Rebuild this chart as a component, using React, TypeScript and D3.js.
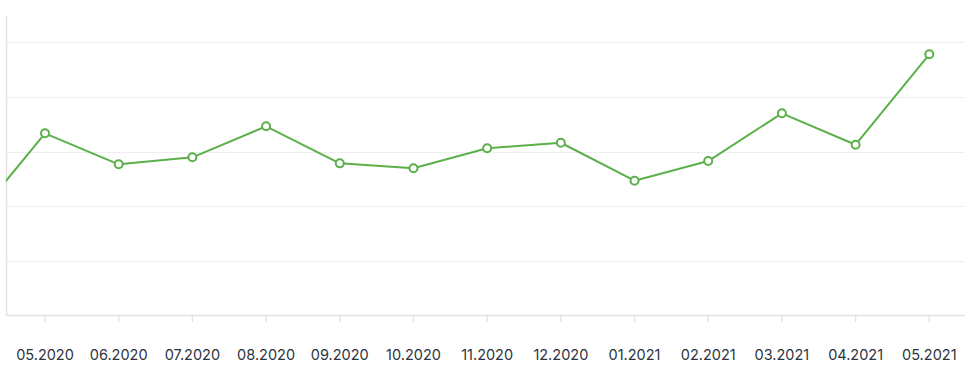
import React from "react";
import * as d3 from "d3";

const months = ["04.2020","05.2020","06.2020","07.2020","08.2020","09.2020","10.2020","11.2020","12.2020","01.2021","02.2021","03.2021","04.2021","05.2021"];
const values = [1695, 3334, 2768, 2896, 3462, 2786, 2695, 3060, 3162, 2469, 2828, 3699, 3126, 4776];
const visibleLabels = months.slice(1);
const gridTicks = [1000, 2000, 3000, 4000, 5000];

const W = 969, H = 385;
const plotLeft = 6, plotRight = 965, plotTop = 16, plotBottom = 316;

export default function App() {
  const x = d3.scaleLinear().domain([1, 13]).range([45, 929.3]);
  const y = d3.scaleLinear().domain([0, 5475]).range([plotBottom, plotTop]);
  const line = d3.line<number>().x((_, i) => x(i)).y(d => y(d));
  const green = "#5bb04a";
  return (
    <svg width={W} height={H} style={{ position: "absolute", left: 0, top: 0, background: "#fff" }}>
      <defs>
        <clipPath id="plot">
          <rect x={plotLeft} y={0} width={plotRight - plotLeft} height={plotBottom + 6} />
        </clipPath>
      </defs>
      {gridTicks.map(t => (
        <line key={t} x1={plotLeft} x2={plotRight} y1={Math.round(y(t)) + 0.5} y2={Math.round(y(t)) + 0.5} stroke="#eeeeee" strokeWidth={1.2} />
      ))}
      <line x1={plotLeft + 0.5} x2={plotLeft + 0.5} y1={plotTop} y2={plotBottom} stroke="#e3e3e3" strokeWidth={1.5} />
      <line x1={plotLeft} x2={plotRight} y1={plotBottom - 0.5} y2={plotBottom - 0.5} stroke="#e3e3e3" strokeWidth={1.5} />
      {visibleLabels.map((m, k) => {
        const xi = x(k + 1);
        return (
          <g key={m}>
            <line x1={xi} x2={xi} y1={plotBottom} y2={plotBottom + 6} stroke="#e3e3e3" strokeWidth={1.5} />
            <text x={xi} y={359.5} textAnchor="middle" fontFamily="Inter, 'Open Sans', sans-serif" fontSize={14.5} fill="#2d3440">{m}</text>
          </g>
        );
      })}
      <g clipPath="url(#plot)">
        <path d={line(values) || ""} fill="none" stroke={green} strokeWidth={2} strokeLinejoin="round" />
        {values.map((v, i) => (
          <circle key={i} cx={x(i)} cy={y(v)} r={4} fill="#fff" stroke={green} strokeWidth={2} />
        ))}
      </g>
    </svg>
  );
}
